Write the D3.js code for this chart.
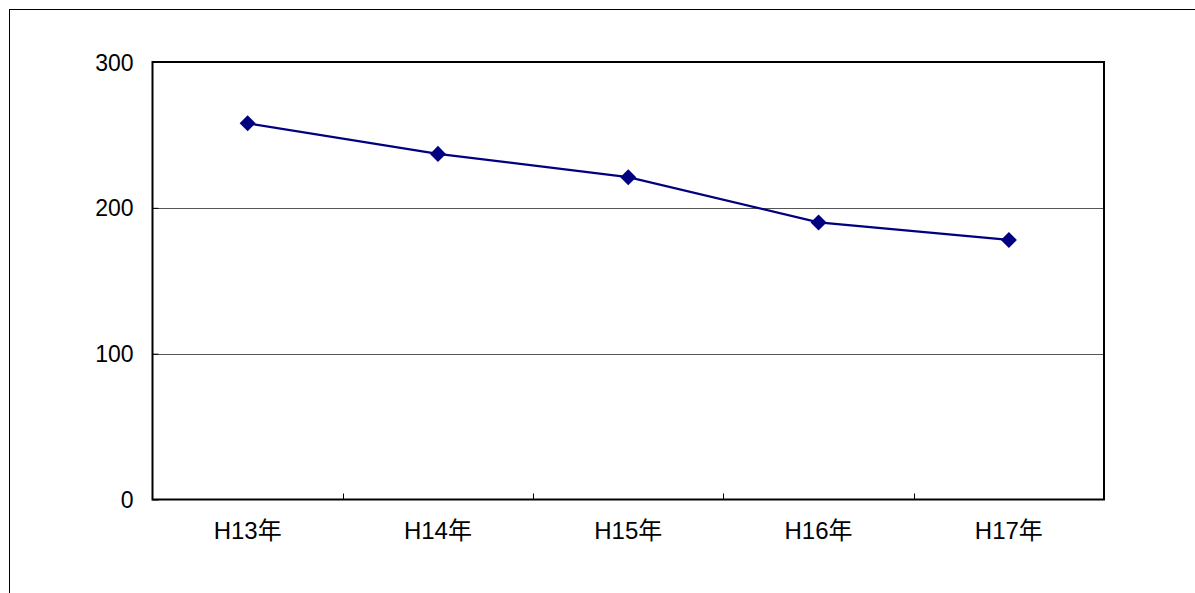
<!DOCTYPE html>
<html>
<head>
<meta charset="utf-8">
<script src="https://cdn.jsdelivr.net/npm/d3@7/dist/d3.min.js"></script>
<style>
  html, body { margin: 0; padding: 0; background: #fff; }
  svg { display: block; }
  text { font-family: "Liberation Sans", Arial, "Noto Sans CJK JP", sans-serif; fill: #000; }
</style>
</head>
<body>
<svg id="chart" width="1195" height="593"></svg>
<script>
// Yearly values
const categories = ["H13年", "H14年", "H15年", "H16年", "H17年"];
const values = [258, 237, 221, 190, 178];
const yTicks = [0, 100, 200, 300];

const svg = d3.select("#chart");
const W = 1195, H = 593;
const plot = { left: 152.5, top: 62, right: 1104, bottom: 499.5 };

// Outer frame (extends past the right and bottom edges)
svg.append("rect")
  .attr("x", 9.5).attr("y", 9.5)
  .attr("width", W + 20).attr("height", H + 20)
  .attr("fill", "none").attr("stroke", "#000").attr("stroke-width", 1);

const x = d3.scaleBand().domain(categories).range([plot.left, plot.right]).padding(0);
const y = d3.scaleLinear().domain([0, 300]).range([plot.bottom, plot.top]);

// Horizontal gridlines
svg.append("g")
  .selectAll("line")
  .data(yTicks.filter(d => d > 0 && d < 300))
  .join("line")
  .attr("x1", plot.left).attr("x2", plot.right)
  .attr("y1", d => Math.round(y(d)) + 0.5).attr("y2", d => Math.round(y(d)) + 0.5)
  .attr("stroke", "#555").attr("stroke-width", 1);

// Y axis: inward ticks and labels
const yAxis = d3.axisRight(y).tickValues(yTicks).tickSize(6).tickFormat(d3.format("d"));
const yG = svg.append("g").attr("transform", `translate(${plot.left},0)`).call(yAxis);
yG.select(".domain").remove();
yG.selectAll(".tick line").attr("stroke", "#000");
yG.selectAll(".tick text")
  .attr("x", -19).attr("text-anchor", "end").attr("dy", "0.35em")
  .style("font-size", "23px");

// X axis: inward ticks between categories, labels under each band
const boundaries = categories.slice(1).map(c => x(c));
svg.append("g").selectAll("line")
  .data(boundaries)
  .join("line")
  .attr("x1", d => Math.round(d) + 0.5).attr("x2", d => Math.round(d) + 0.5)
  .attr("y1", plot.bottom).attr("y2", plot.bottom - 6)
  .attr("stroke", "#000").attr("stroke-width", 1);

svg.append("g").selectAll("text")
  .data(categories)
  .join("text")
  .attr("x", d => x(d) + x.bandwidth() / 2)
  .attr("y", 531)
  .attr("dy", "0.35em")
  .attr("text-anchor", "middle")
  .style("font-size", "24px")
  .text(d => d);

// Plot area border
svg.append("rect")
  .attr("x", plot.left).attr("y", plot.top)
  .attr("width", plot.right - plot.left).attr("height", plot.bottom - plot.top)
  .attr("fill", "none").attr("stroke", "#000").attr("stroke-width", 2);

// Data line
const pts = categories.map((c, i) => [x(c) + x.bandwidth() / 2, y(values[i])]);
svg.append("path")
  .datum(pts)
  .attr("d", d3.line())
  .attr("fill", "none").attr("stroke", "#000080").attr("stroke-width", 2.2);

// Diamond markers
const diamond = d3.symbol().type(d3.symbolSquare).size(128);
svg.append("g").selectAll("path")
  .data(pts)
  .join("path")
  .attr("d", diamond)
  .attr("transform", d => `translate(${d[0]},${d[1]}) rotate(45)`)
  .attr("fill", "#000080");
</script>
</body>
</html>
